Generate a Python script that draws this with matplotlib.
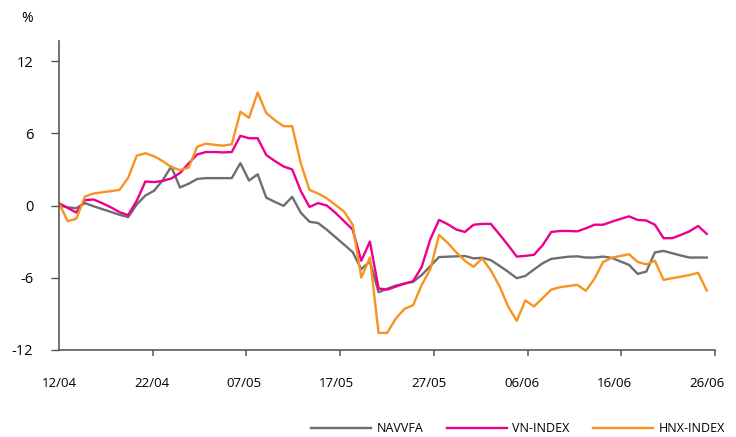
import numpy as np
import matplotlib.pyplot as plt

plt.rcParams['font.family'] = ['Open Sans', 'DejaVu Sans']
plt.rcParams['axes.unicode_minus'] = False

date_labels = ['12/04', '22/04', '07/05', '17/05', '27/05', '06/06', '16/06', '26/06']

# % change since 12/04, one value per day
navvfa = [0.0, -0.15, -0.22, 0.2, -0.06, -0.30, -0.53, -0.77, -0.97, 0.09,
          0.83, 1.23, 2.10, 3.25, 1.5, 1.81, 2.21, 2.28, 2.28, 2.28,
          2.28, 3.53, 2.08, 2.6, 0.65, 0.30, -0.03, 0.72, -0.6, -1.35,
          -1.46, -2.01, -2.63, -3.25, -3.87, -5.3, -4.65, -7.22, -6.93, -6.66,
          -6.50, -6.35, -5.78, -5.04, -4.29, -4.26, -4.23, -4.20, -4.40, -4.35,
          -4.55, -5.02, -5.51, -6.05, -5.86, -5.32, -4.81, -4.44, -4.35, -4.26,
          -4.23, -4.33, -4.33, -4.25, -4.36, -4.65, -4.94, -5.69, -5.5, -3.9,
          -3.78, -3.97, -4.16, -4.33, -4.33, -4.33]

vn_index = [0.2, -0.2, -0.58, 0.45, 0.5, 0.2, -0.15, -0.55, -0.8, 0.4,
            2.0, 1.95, 2.05, 2.25, 2.7, 3.5, 4.25, 4.45, 4.45, 4.42,
            4.45, 5.8, 5.6, 5.6, 4.2, 3.7, 3.25, 3.0, 1.2, -0.12,
            0.2, 0.0, -0.6, -1.3, -2.0, -4.6, -3.0, -6.9, -7.0, -6.75,
            -6.5, -6.3, -5.1, -2.8, -1.2, -1.55, -2.0, -2.2, -1.6, -1.53,
            -1.53, -2.4, -3.3, -4.25, -4.19, -4.1, -3.3, -2.2, -2.12, -2.12,
            -2.15, -1.9, -1.6, -1.6, -1.35, -1.12, -0.9, -1.2, -1.25, -1.6,
            -2.72, -2.72, -2.45, -2.15, -1.7, -2.36]

hnx_index = [0.2, -1.3, -1.1, 0.75, 1.0, 1.1, 1.2, 1.3, 2.3, 4.15,
             4.35, 4.1, 3.7, 3.2, 2.95, 3.15, 4.9, 5.15, 5.05, 4.98,
             5.1, 7.8, 7.3, 9.4, 7.7, 7.1, 6.6, 6.6, 3.5, 1.3,
             1.0, 0.6, 0.05, -0.5, -1.6, -6.0, -4.33, -10.6, -10.6, -9.4,
             -8.6, -8.3, -6.6, -5.3, -2.45, -3.1, -3.9, -4.6, -5.1, -4.4,
             -5.4, -6.7, -8.4, -9.6, -7.9, -8.4, -7.7, -7.0, -6.8, -6.7,
             -6.6, -7.1, -6.1, -4.7, -4.35, -4.2, -4.05, -4.7, -4.9, -4.6,
             -6.19, -6.05, -5.92, -5.79, -5.6, -7.08]

days = np.arange(len(navvfa))

fig = plt.figure(figsize=(7.36, 4.37), dpi=100)
ax = fig.add_axes([0.0802, 0.1998, 0.8913, 0.7071])

ax.plot(days, navvfa, color='#6d6e71', lw=1.7, label='NAVVFA')
ax.plot(days, vn_index, color='#ec008c', lw=1.7, label='VN-INDEX')
ax.plot(days, hnx_index, color='#f7931e', lw=1.7, label='HNX-INDEX')

xmax = 75.96
ax.set_xlim(0, xmax)
ax.set_ylim(-12, 13.72)

ax.set_yticks([-12, -6, 0, 6, 12])
ax.set_xticks(np.linspace(0, xmax, 8)[1:])
ax.set_xticklabels([])
ax.set_xticks(np.linspace(0, days[-1], 8), minor=True)
ax.set_xticklabels(date_labels, minor=True)

ax.tick_params(axis='x', which='major', direction='out', length=4, width=1.1, color='#555555')
ax.tick_params(axis='x', which='minor', length=0, pad=20, labelsize=9.5)
ax.tick_params(axis='y', direction='out', length=5.5, width=1.0, color='#555555',
               pad=13, labelsize=10.5)

for s in ['top', 'right']:
    ax.spines[s].set_visible(False)
for s in ['left', 'bottom']:
    ax.spines[s].set_color('#5a5a5a')
    ax.spines[s].set_linewidth(1.2)

fig.text(26.7 / 736, 1 - 18 / 437, '%', ha='center', va='center', fontsize=10)

fig.legend(loc='center right', bbox_to_anchor=(725 / 736, 8 / 437), ncol=3,
           frameon=False, fontsize=9, handlelength=4.8, handletextpad=0.45,
           columnspacing=1.85, borderaxespad=0, borderpad=0)

fig.savefig('out.png', dpi=100)
